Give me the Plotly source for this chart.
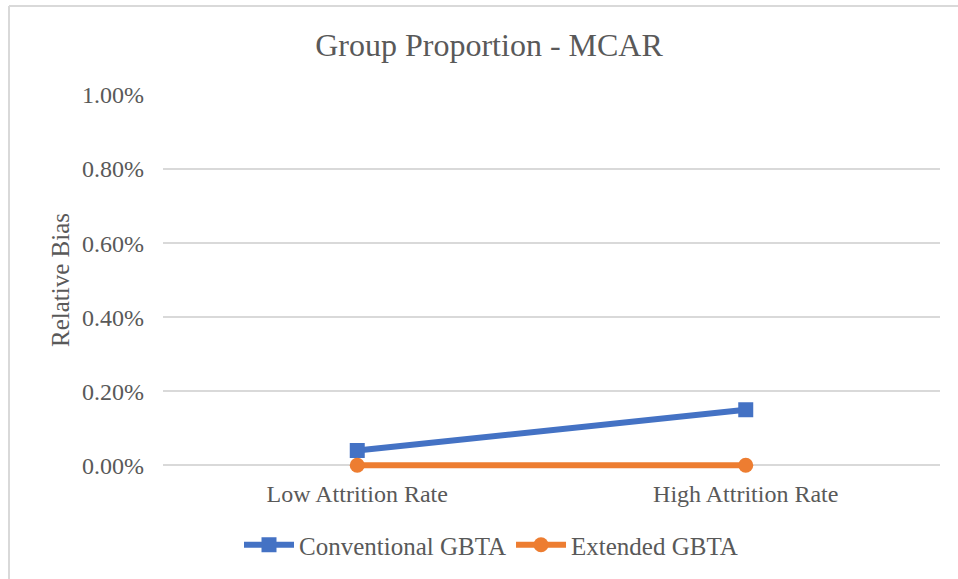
import plotly.graph_objects as go

categories = ["Low Attrition Rate", "High Attrition Rate"]
conventional_gbta = [0.0004, 0.0015]
extended_gbta = [0.0, 0.0]
y_ticks = [0.0, 0.002, 0.004, 0.006, 0.008, 0.010]

SERIF = "Liberation Serif, Times New Roman, serif"
TEXT = "#595959"
GRID = "#d9d9d9"

# plot-area placement in pixels (958 x 579 canvas); the y range starts a
# hair below zero so the thick line along 0% is not clipped
CW, CH = 958, 579
L, R, T, B = 163, 18, 95, 110
W, H = CW - L - R, CH - T - B
Y_RANGE = [-0.0001, 0.0100]

def px_x(p):
    return (p - L) / W

def px_y(p):
    return (CH - B - p) / H

fig = go.Figure()
fig.add_trace(go.Scatter(
    x=categories, y=conventional_gbta, name="Conventional GBTA",
    mode="lines+markers", cliponaxis=False,
    line=dict(color="#4472C4", width=6),
    marker=dict(symbol="square", size=15, color="#4472C4"),
))
fig.add_trace(go.Scatter(
    x=categories, y=extended_gbta, name="Extended GBTA",
    mode="lines+markers", cliponaxis=False,
    line=dict(color="#ED7D31", width=6),
    marker=dict(symbol="circle", size=15, color="#ED7D31"),
))

fig.update_layout(
    width=CW, height=CH,
    margin=dict(l=L, r=R, t=T, b=B, autoexpand=False),
    paper_bgcolor="white", plot_bgcolor="white",
    font=dict(family=SERIF, color=TEXT, size=24),
    title=dict(text="Group Proportion - MCAR", x=489 / CW, xref="container",
               xanchor="center", y=1 - 45 / CH, yref="container",
               yanchor="middle",
               font=dict(size=32, color=TEXT, family=SERIF)),
    xaxis=dict(type="category", range=[-0.5, 1.5], showgrid=False,
               showline=False, zeroline=False, ticks="",
               ticklabelstandoff=8, tickfont=dict(size=24, family=SERIF)),
    yaxis=dict(range=Y_RANGE, tickvals=y_ticks, tickformat=".2%",
               showgrid=True, gridcolor=GRID, gridwidth=1.5,
               zeroline=True, zerolinecolor=GRID, zerolinewidth=1.5,
               showline=False, ticks="", ticklabelstandoff=18,
               tickfont=dict(size=24, family=SERIF)),
    legend=dict(orientation="h", x=px_x(491), xanchor="center",
                y=px_y(545), yanchor="middle",
                font=dict(size=25, color=TEXT, family=SERIF),
                itemwidth=50),
    showlegend=True,
    annotations=[dict(text="Relative Bias", textangle=-90, showarrow=False,
                      xref="paper", yref="paper", x=px_x(60), y=px_y(280),
                      xanchor="center", yanchor="middle",
                      font=dict(size=25, color=TEXT, family=SERIF))],
    shapes=[
        dict(type="line", xref="paper", yref="paper",
             x0=px_x(9), x1=px_x(958), y0=px_y(6), y1=px_y(6),
             line=dict(color=GRID, width=2)),
        dict(type="line", xref="paper", yref="paper",
             x0=px_x(9), x1=px_x(9), y0=px_y(6), y1=px_y(579),
             line=dict(color=GRID, width=2)),
    ],
)

fig.write_html("out.html")
